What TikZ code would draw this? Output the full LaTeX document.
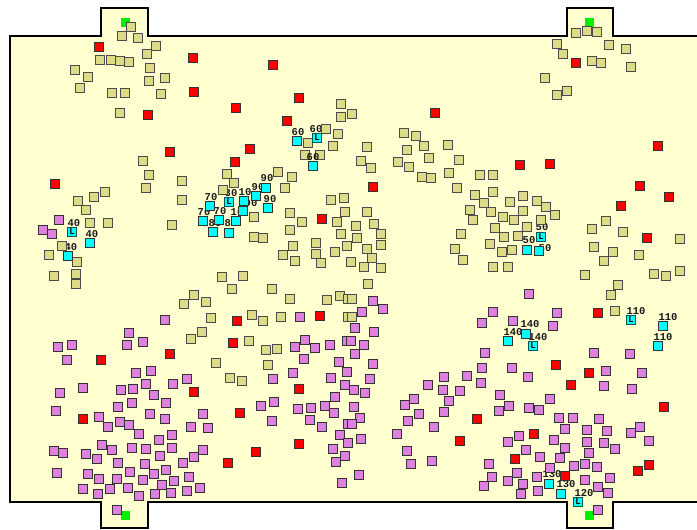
\documentclass[tikz,border=0pt]{standalone}
\usepackage{fontspec}
\newfontfamily\labfont{Liberation Mono}
\definecolor{fieldc}{RGB}{255,255,208}
\definecolor{tanc}{RGB}{221,219,136}
\definecolor{vioc}{RGB}{222,128,222}
\definecolor{redc}{RGB}{255,0,0}
\definecolor{cyac}{RGB}{0,255,255}
\definecolor{grnc}{RGB}{0,240,0}
\tikzset{
  sq/.style={rectangle, draw=black!80, line width=0.9pt, minimum size=9.2pt, inner sep=0pt},
  tansq/.style={sq, fill=tanc, draw=black!70},
  viosq/.style={sq, fill=vioc},
  redsq/.style={sq, fill=redc},
  cyasq/.style={sq, fill=cyac},
  grnsq/.style={rectangle, fill=grnc, minimum size=9pt, inner sep=0pt},
  lab/.style={font=\labfont\bfseries\fontsize{10.5}{10.5}\selectfont, inner sep=0pt, text=black!90},
  Lmark/.style={font=\labfont\bfseries\fontsize{9}{9}\selectfont, inner sep=0pt}
}
\begin{document}
\begin{tikzpicture}[x=1pt,y=-1pt]
\useasboundingbox (0,0) rectangle (697,530);
\clip (0,0) rectangle (697,530);
% field with goals
\draw[line width=1.6pt, fill=fieldc]
  (10,36) -- (101,36) -- (101,8) -- (148,8) -- (148,36) -- (567,36) -- (567,8) -- (613,8) -- (613,36)
  -- (705,36) -- (705,502) -- (613,502) -- (613,528) -- (567,528) -- (567,502) -- (148,502)
  -- (148,528) -- (101,528) -- (101,502) -- (10,502) -- cycle;
% green markers
\foreach \x/\y [count=\i] in {125/22,589/22,125/515,589/515}
  \node[grnsq] (g\i) at (\x,\y) {};
% labels of cyan squares (drawn first, partly covered)
\foreach \x/\y/\t [count=\i] in {
 316/129/60, 298/132/60,
 74/223/40, 92/234/40, 71/247/40,
 267/178/90, 231/193/80, 245/192/10, 258/187/90, 270/199/90, 211/197/70,
 251/203/90, 204/212/70, 220/211/70, 237/212/10, 215/223/80, 231/223/80,
 542/227/50, 529/240/50, 545/248/50,
 636/311/110, 668/317/110, 663/337/110,
 530/324/140, 538/337/140, 513/332/140,
 552/474/130, 566/484/130, 584/493/120}
  \node[lab] (lb\i) at (\x,\y) {\t};
% tan squares
\foreach \x/\y [count=\i] in {
131/27,122/36,138/38,156/46,147/54,100/60,111/60,120/61,129/62,150/68,75/70,88/77,165/78,149/81,80/88,112/93,125/93,161/94,120/113,143/161,149/175,
341/104,352/114,341/117,326/129,338/134,308/143,333/146,305/155,320/155,227/174,278/172,292/177,182/181,
404/133,416/136,367/147,407/150,424/146,448/145,361/161,398/162,371/168,409/167,429/158,459/160,422/177,431/178,449/173,480/175,493/175,
576/33,587/31,597/32,557/44,609/45,626/49,563/54,592/61,601/63,631/67,545/78,567/91,557/95,
146/188,78/201,94/197,105/192,86/210,90/223,108/223,62/246,49/255,77/262,54/276,76/274,76/284,172/225,
234/183,285/188,223/190,182/200,254/217,290/213,302/222,337/222,331/200,344/198,345/212,290/230,254/237,263/238,341/234,293/246,316/243,347/246,283/255,316/254,335/252,295/261,321/263,222/277,243/276,232/289,272/289,194/295,184/304,206/302,290/299,327/300,340/296,348/299,211/318,252/315,263/321,281/317,348/317,202/332,191/339,249/341,266/350,277/349,
457/188,475/195,493/192,484/203,510/202,523/196,470/210,491/212,473/220,503/217,514/220,523/211,367/212,356/226,374/224,381/234,357/238,381/245,367/249,372/258,364/267,381/268,351/262,368/284,461/234,495/228,504/237,518/236,455/249,490/244,502/252,512/250,463/260,493/267,508/267,352/299,352/317,
537/201,546/207,555/215,541/220,527/227,606/221,592/229,623/232,680/239,594/247,613/252,604/261,639/255,585/275,654/274,666/276,680/271,618/285,611/295,615/311,
216/363,230/378,242/381,268/365}
  \node[tansq] (t\i) at (\x,\y) {};
% label drawn over the tan squares
\node[lab] (lbx) at (313,157) {60};
% violet squares
\foreach \x/\y [count=\i] in {
59/220,43/230,52/234,165/320,129/333,143/342,127/345,58/347,72/345,
300/317,295/347,305/340,315/348,330/345,347/341,
373/301,362/312,383/309,355/328,374/332,351/341,364/345,355/354,493/312,482/323,513/321,485/353,
529/294,557/313,553/326,594/353,630/354,
67/360,136/373,151/371,146/384,173/384,60/393,83/388,121/390,133/389,154/395,132/403,118/407,166/403,56/411,150/414,165/419,99/417,108/427,120/422,129/425,139/434,172/435,159/440,102/445,112/450,132/448,146/449,172/448,54/451,63/453,86/454,97/459,160/456,118/463,145/464,57/473,88/474,130/472,154/474,166/470,99/479,117/479,143/480,162/485,174/481,83/489,98/494,110/489,128/488,139/496,155/494,171/493,117/510,
304/359,187/379,273/379,293/373,339/362,347/372,331/378,345/385,335/397,325/406,334/413,298/409,311/408,310/420,322/427,274/402,261/406,272/421,203/414,191/427,208/428,348/424,340/435,348/443,333/449,345/456,336/462,203/450,194/457,183/463,189/477,187/491,200/488,342/483,
373/364,482/368,512/368,370/379,444/377,467/376,428/385,481/383,354/390,365/393,443/390,460/391,500/395,414/399,405/405,449/401,354/407,444/412,499/411,509/406,360/418,419/414,408/421,434/427,352/424,397/434,361/439,519/436,508/442,407/451,411/464,432/461,489/464,492/477,484/486,508/481,517/473,523/484,521/494,359/475,
606/371,642/373,528/377,604/386,632/389,550/399,529/408,539/410,559/418,573/418,599/419,565/429,587/430,607/431,640/427,631/433,649/441,554/440,526/450,565/448,587/442,604/443,615/449,589/453,540/457,560/458,550/468,574/466,585/464,597/467,537/477,585/480,610/478,598/487,608/493,538/491,598/510}
  \node[viosq] (v\i) at (\x,\y) {};
% red squares
\foreach \x/\y [count=\i] in {
99/47,148/115,170/152,193/58,273/65,194/92,299/98,236/108,287/121,250/149,235/162,435/113,520/165,576/63,658/146,550/164,55/184,170/354,322/219,237/321,320/316,233/343,373/187,640/186,669/197,621/206,647/238,598/313,101/360,83/419,194/392,299/389,240/413,299/444,256/452,228/463,477/419,460/441,515/459,556/365,589/373,571/385,664/407,534/434,649/465,638/471,565/476}
  \node[redsq] (r\i) at (\x,\y) {};
% cyan squares
\foreach \x/\y [count=\i] in {
297/141,313/166,90/243,68/256,266/188,244/201,256/196,268/208,210/206,243/211,203/221,219/220,236/221,213/232,229/233,
527/250,539/251,663/326,658/346,526/334,508/341,549/484,561/494}
  \node[cyasq] (c\i) at (\x,\y) {};
% cyan squares marked L
\foreach \x/\y [count=\i] in {317/138,72/232,229/202,541/237,631/320,533/346,578/502}
  \node[cyasq, draw=teal!70!black, Lmark] (cl\i) at (\x,\y) {L};
\end{tikzpicture}
\end{document}
